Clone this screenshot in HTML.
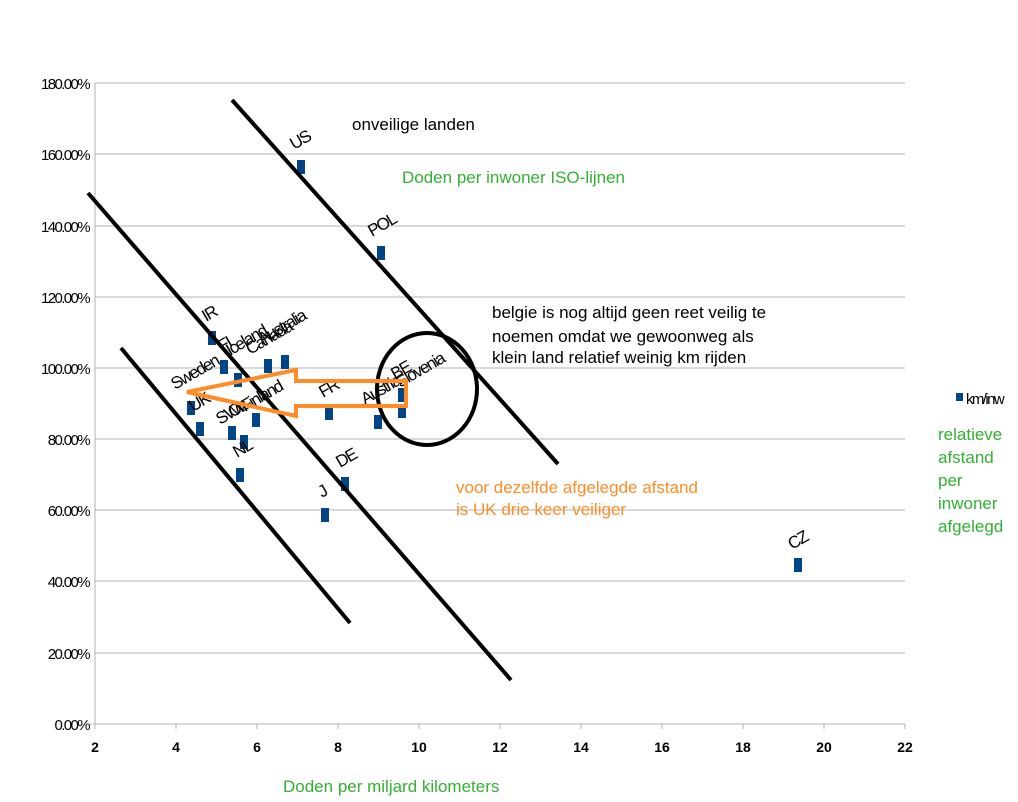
<!DOCTYPE html><html><head><style>body{margin:0;background:#fff}svg text{font-family:"Liberation Sans",sans-serif}</style></head><body>
<svg width="1018" height="797" xmlns="http://www.w3.org/2000/svg">
<g stroke="#b3b3b3" stroke-width="1">
<line x1="95" y1="83" x2="905" y2="83"/><line x1="95" y1="154" x2="905" y2="154"/><line x1="95" y1="226" x2="905" y2="226"/><line x1="95" y1="297" x2="905" y2="297"/><line x1="95" y1="368" x2="905" y2="368"/><line x1="95" y1="439" x2="905" y2="439"/><line x1="95" y1="510" x2="905" y2="510"/><line x1="95" y1="581" x2="905" y2="581"/><line x1="95" y1="653" x2="905" y2="653"/><line x1="90" y1="724" x2="905" y2="724"/>
<line x1="95" y1="83" x2="95" y2="729"/>
<line x1="176" y1="724" x2="176" y2="729"/><line x1="257" y1="724" x2="257" y2="729"/><line x1="338" y1="724" x2="338" y2="729"/><line x1="419" y1="724" x2="419" y2="729"/><line x1="500" y1="724" x2="500" y2="729"/><line x1="581" y1="724" x2="581" y2="729"/><line x1="662" y1="724" x2="662" y2="729"/><line x1="743" y1="724" x2="743" y2="729"/><line x1="824" y1="724" x2="824" y2="729"/><line x1="905" y1="724" x2="905" y2="729"/>
</g>
<g font-size="15" text-anchor="end" letter-spacing="-1.6">
<text x="89" y="89">180.00%</text><text x="89" y="160">160.00%</text><text x="89" y="232">140.00%</text><text x="89" y="303">120.00%</text><text x="89" y="374">100.00%</text><text x="89" y="445">80.00%</text><text x="89" y="516">60.00%</text><text x="89" y="587">40.00%</text><text x="89" y="659">20.00%</text><text x="89" y="730">0.00%</text>
</g>
<g font-size="14" text-anchor="middle" font-weight="bold">
<text x="95" y="752">2</text><text x="176" y="752">4</text><text x="257" y="752">6</text><text x="338" y="752">8</text><text x="419" y="752">10</text><text x="500" y="752">12</text><text x="581" y="752">14</text><text x="662" y="752">16</text><text x="743" y="752">18</text><text x="824" y="752">20</text><text x="905" y="752">22</text>
</g>
<g fill="#004586">
<rect x="297" y="160" width="8" height="14"/><rect x="377" y="246" width="8" height="14"/><rect x="208" y="331" width="8" height="14"/><rect x="220" y="360" width="8" height="14"/><rect x="234" y="373" width="8" height="14"/><rect x="264" y="359" width="8" height="14"/><rect x="281" y="355" width="8" height="14"/><rect x="187" y="401" width="8" height="14"/><rect x="196" y="422" width="8" height="14"/><rect x="228" y="426" width="8" height="14"/><rect x="240" y="435" width="8" height="14"/><rect x="252" y="413" width="8" height="14"/><rect x="236" y="468" width="8" height="14"/><rect x="325" y="406" width="8" height="14"/><rect x="374" y="415" width="8" height="14"/><rect x="398" y="388" width="8" height="14"/><rect x="398" y="404" width="8" height="14"/><rect x="341" y="477" width="8" height="14"/><rect x="321" y="508" width="8" height="14"/><rect x="794" y="558" width="8" height="14"/>
<rect x="956" y="393" width="7" height="8"/>
</g>
<g font-size="17" letter-spacing="-1.6">
<text transform="translate(294,150) rotate(-30)">US</text>
<text transform="translate(372,237) rotate(-30)">POL</text>
<text transform="translate(206,322) rotate(-30)">IR</text>
<text transform="translate(222,352) rotate(-30)">FI</text>
<text transform="translate(230,356) rotate(-30)">Iceland</text>
<text transform="translate(250,355) rotate(-30)">Canada</text>
<text transform="translate(262,345) rotate(-30)">Australia</text>
<text transform="translate(175,390) rotate(-30)">Sweden</text>
<text transform="translate(193,412) rotate(-30)">UK</text>
<text transform="translate(220,425) rotate(-30)">SWI</text>
<text transform="translate(232,418) rotate(-30)">Oz</text>
<text transform="translate(245,412) rotate(-30)">Finland</text>
<text transform="translate(237,458) rotate(-30)">NL</text>
<text transform="translate(323,398) rotate(-30)">FR</text>
<text transform="translate(365,405) rotate(-30)">Austria</text>
<text transform="translate(395,380) rotate(-30)">BE</text>
<text transform="translate(400,388) rotate(-30)">Slovenia</text>
<text transform="translate(340,468) rotate(-30)">DE</text>
<text transform="translate(322,498) rotate(-30)">J</text>
<text transform="translate(792,550) rotate(-30)">CZ</text>
<text x="966" y="404" font-size="15">km/inw</text>
</g>
<g stroke="#000" stroke-width="4" fill="none">
<line x1="232" y1="100" x2="558" y2="464"/>
<line x1="88" y1="193" x2="511" y2="680"/>
<line x1="121" y1="348" x2="350" y2="623"/>
<ellipse cx="427" cy="389" rx="50" ry="56"/>
</g>
<polygon points="187,392 296,370 296,381 406,381 406,406 296,406 296,416" fill="none" stroke="#ff8c26" stroke-width="4" stroke-linejoin="miter"/>
<g font-size="17">
<text x="352" y="130">onveilige landen</text>
<text x="402" y="183" fill="#33b033">Doden per inwoner ISO-lijnen</text>
<text x="492" y="318">belgie is nog altijd geen reet veilig te</text>
<text x="492" y="342">noemen omdat we gewoonweg als</text>
<text x="492" y="363">klein land relatief weinig km rijden</text>
<text x="456" y="493" fill="#ff8c26">voor dezelfde afgelegde afstand</text>
<text x="456" y="515" fill="#ff8c26">is UK drie keer veiliger</text>
<text x="283" y="792" fill="#33b033">Doden per miljard kilometers</text>
<g fill="#33b033"><text x="938" y="440">relatieve</text><text x="938" y="463">afstand</text><text x="938" y="486">per</text><text x="938" y="509">inwoner</text><text x="938" y="532">afgelegd</text></g>
</g>
</svg></body></html>
